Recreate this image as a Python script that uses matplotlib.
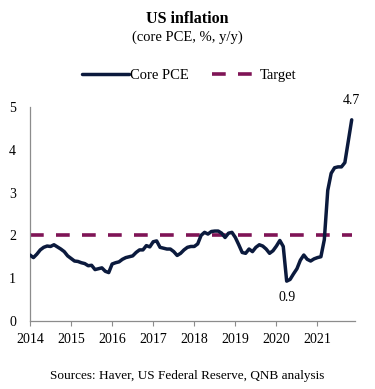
import matplotlib
matplotlib.use("Agg")
import matplotlib.pyplot as plt
import numpy as np

plt.rcParams['font.family'] = ['Liberation Serif', 'DejaVu Serif']

years = ["2014", "2015", "2016", "2017", "2018", "2019", "2020", "2021"]

core_pce = [
    # 2014
    1.54, 1.48, 1.56, 1.66, 1.72, 1.75, 1.74, 1.78, 1.73, 1.68, 1.62, 1.52,
    # 2015
    1.46, 1.40, 1.39, 1.36, 1.34, 1.29, 1.30, 1.20, 1.22, 1.24, 1.16, 1.13,
    # 2016
    1.33, 1.36, 1.38, 1.44, 1.48, 1.50, 1.52, 1.60, 1.66, 1.66, 1.76, 1.73,
    # 2017
    1.85, 1.87, 1.72, 1.70, 1.68, 1.68, 1.62, 1.53, 1.58, 1.66, 1.72, 1.74,
    # 2018
    1.74, 1.80, 2.00, 2.07, 2.03, 2.09, 2.10, 2.10, 2.05, 1.95, 2.05, 2.07,
    # 2019
    1.95, 1.78, 1.60, 1.58, 1.68, 1.62, 1.72, 1.78, 1.75, 1.68, 1.58, 1.64,
    # 2020
    1.75, 1.88, 1.74, 0.93, 0.97, 1.10, 1.22, 1.42, 1.54, 1.44, 1.40, 1.45,
    # 2021
    1.48, 1.50, 1.90, 3.05, 3.45, 3.58, 3.60, 3.60, 3.70, 4.20, 4.70,
]
target = 2.0

core_color = "#0b1a3d"
target_color = "#7f1456"

fig = plt.figure(figsize=(3.75, 3.89), dpi=100)
ax = fig.add_axes([0.08, 0.175, 0.867, 0.55])

x = np.arange(len(core_pce))
ax.plot(x, core_pce, color=core_color, lw=2.5, solid_capstyle='round',
        solid_joinstyle='round', label="Core PCE", zorder=3)
ax.plot([x[0], x[-1]], [target, target], color=target_color, lw=2.6,
        dashes=(3.8, 3.4), label="Target", zorder=2)

ax.set_xlim(0, 95)
ax.set_ylim(0, 5)
ax.set_xticks(np.arange(len(years)) * 12)
ax.set_xticklabels(years)
ax.set_yticks([0, 1, 2, 3, 4, 5])

for s in ["top", "right"]:
    ax.spines[s].set_visible(False)
for s in ["left", "bottom"]:
    ax.spines[s].set_color("#8c8c8c")
    ax.spines[s].set_linewidth(0.9)
ax.tick_params(axis='x', direction='out', length=3.5, color="#8c8c8c",
               labelsize=10, pad=5)
ax.tick_params(axis='y', length=0, labelsize=10, pad=10)

imax = int(np.argmax(core_pce))
imin = int(np.argmin(core_pce))
ax.annotate(f"{core_pce[imax]:.1f}", (x[imax], core_pce[imax]),
            xytext=(0, 9), textcoords="offset points", ha="center",
            va="bottom", fontsize=10)
ax.annotate(f"{core_pce[imin]:.1f}", (x[imin], core_pce[imin]),
            xytext=(0, -7), textcoords="offset points", ha="center",
            va="top", fontsize=10)

fig.text(0.5, 0.951, "US inflation", ha="center", va="center",
         fontsize=11.5, fontweight="bold")
fig.text(0.5, 0.903, "(core PCE, %, y/y)", ha="center", va="center",
         fontsize=10.5)

fig.legend(loc="center", bbox_to_anchor=(0.505, 0.805), ncol=2, frameon=False,
           fontsize=10.5, handlelength=3.2, handletextpad=0.1,
           columnspacing=1.6)

fig.text(0.5, 0.033, "Sources: Haver, US Federal Reserve, QNB analysis",
         ha="center", va="center", fontsize=9.5)

fig.savefig("out.png", dpi=100)
